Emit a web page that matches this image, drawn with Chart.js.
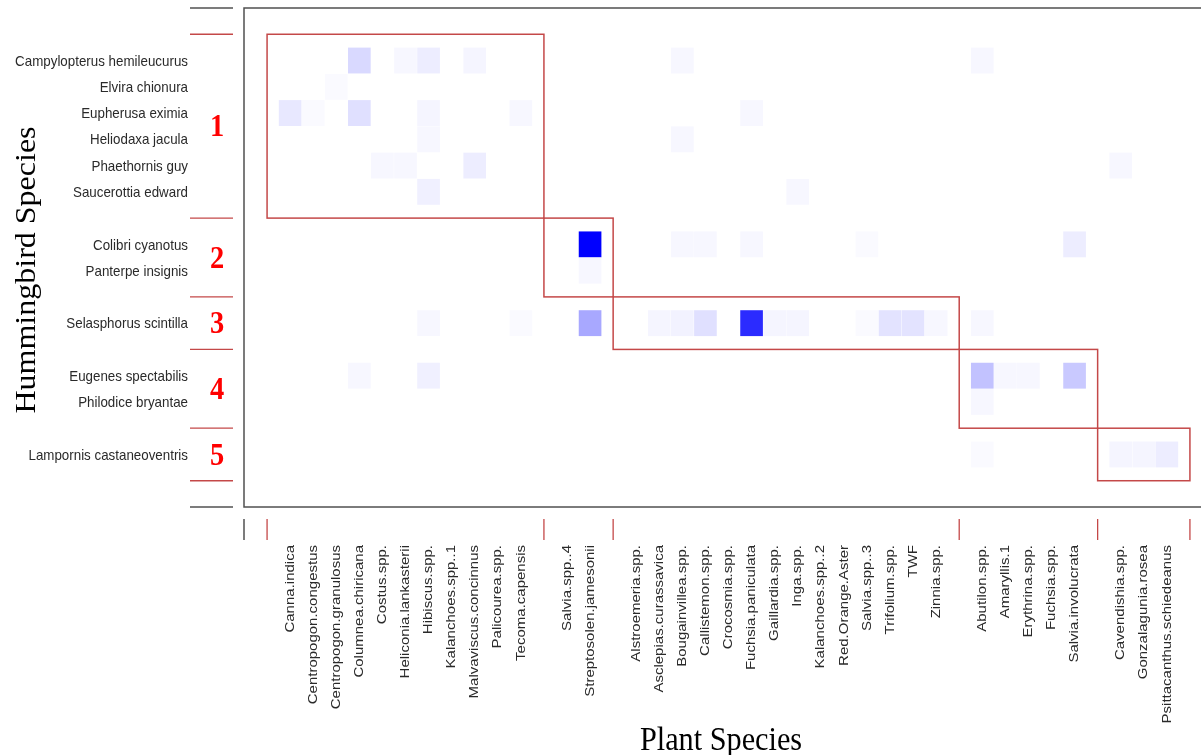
<!DOCTYPE html>
<html>
<head>
<meta charset="utf-8">
<script src="https://cdn.jsdelivr.net/npm/chart.js@4/dist/chart.umd.min.js"></script>
<style>
  html, body { margin: 0; padding: 0; background: #fff; overflow: hidden; }
  canvas { display: block; }
</style>
</head>
<body>
<canvas id="web" width="1213" height="755"></canvas>
<script>
// Hummingbird species (rows), listed module by module
const birds = [
  'Campylopterus hemileucurus', 'Elvira chionura', 'Eupherusa eximia',
  'Heliodaxa jacula', 'Phaethornis guy', 'Saucerottia edward',
  'Colibri cyanotus', 'Panterpe insignis',
  'Selasphorus scintilla',
  'Eugenes spectabilis', 'Philodice bryantae',
  'Lampornis castaneoventris'
];
const birdModules = [6, 2, 1, 2, 1];

// Plant species (columns), listed module by module
const plants = [
  'Canna.indica', 'Centropogon.congestus', 'Centropogon.granulosus', 'Columnea.chiricana',
  'Costus.spp.', 'Heliconia.lankasterii', 'Hibiscus.spp.', 'Kalanchoes.spp..1',
  'Malvaviscus.concinnus', 'Palicourea.spp.', 'Tecoma.capensis',
  'Salvia.spp..4', 'Streptosolen.jamesonii',
  'Alstroemeria.spp.', 'Asclepias.curassavica', 'Bougainvillea.spp.', 'Callistemon.spp.',
  'Crocosmia.spp.', 'Fuchsia.paniculata', 'Gaillardia.spp.', 'Inga.spp.',
  'Kalanchoes.spp..2', 'Red.Orange.Aster', 'Salvia.spp..3', 'Trifolium.spp.', 'TWF', 'Zinnia.spp.',
  'Abutilon.spp.', 'Amaryllis.1', 'Erythrina.spp.', 'Fuchsia.spp.', 'Salvia.involucrata',
  'Cavendishia.spp.', 'Gonzalagunia.rosea', 'Psittacanthus.schiedeanus'
];
const plantModules = [11, 2, 14, 5, 3];

const moduleNames = ['1', '2', '3', '4', '5'];

// Relative interaction frequency (0-100), one row per hummingbird, one column per plant
//                 |---------------- module 1 ----------------| |m2 | |------------------ module 3 ------------------| |---- m4 ----| |-m5-|
const visits = [
  /* Campylopterus */ [0,0,0,15,0,3,7,0,4,0,0,   0,0,    0,0,3,0,0,0,0,0,0,0,0,0,0,0,       3,0,0,0,0,    0,0,0],
  /* Elvira        */ [0,0,2,0,0,0,0,0,0,0,0,    0,0,    0,0,0,0,0,0,0,0,0,0,0,0,0,0,       0,0,0,0,0,    0,0,0],
  /* Eupherusa     */ [9,2,0,12,0,0,4,0,0,0,3,   0,0,    0,0,0,0,0,3,0,0,0,0,0,0,0,0,       0,0,0,0,0,    0,0,0],
  /* Heliodaxa     */ [0,0,0,0,0,0,3,0,0,0,0,    0,0,    0,0,3,0,0,0,0,0,0,0,0,0,0,0,       0,0,0,0,0,    0,0,0],
  /* Phaethornis   */ [0,0,0,0,3,3,0,0,7,0,0,    0,0,    0,0,0,0,0,0,0,0,0,0,0,0,0,0,       0,0,0,0,0,    3,0,0],
  /* Saucerottia   */ [0,0,0,0,0,0,6,0,0,0,0,    0,0,    0,0,0,0,0,0,0,3,0,0,0,0,0,0,       0,0,0,0,0,    0,0,0],
  /* Colibri       */ [0,0,0,0,0,0,0,0,0,0,0,    0,100,  0,0,3,3,0,3,0,0,0,0,2,0,0,0,       0,0,0,0,7,    0,0,0],
  /* Panterpe      */ [0,0,0,0,0,0,0,0,0,0,0,    0,3,    0,0,0,0,0,0,0,0,0,0,0,0,0,0,       0,0,0,0,0,    0,0,0],
  /* Selasphorus   */ [0,0,0,0,0,0,3,0,0,0,2,    0,34,   0,4,5,12,0,83,4,4,0,0,2,11,11,3,   3,0,0,0,0,    0,0,0],
  /* Eugenes       */ [0,0,0,3,0,0,6,0,0,0,0,    0,0,    0,0,0,0,0,0,0,0,0,0,0,0,0,0,       24,3,3,0,21,  0,0,0],
  /* Philodice     */ [0,0,0,0,0,0,0,0,0,0,0,    0,0,    0,0,0,0,0,0,0,0,0,0,0,0,0,0,       3,0,0,0,0,    0,0,0],
  /* Lampornis     */ [0,0,0,0,0,0,0,0,0,0,0,    0,0,    0,0,0,0,0,0,0,0,0,0,0,0,0,0,       2,0,0,0,0,    4,4,7]
];

// Each module is followed by one empty slot; the module borders sit on those slots.
function slotsFor(sizes) {
  const s = [];
  let pos = 1;
  sizes.forEach(n => { for (let i = 0; i < n; i++) s.push(pos++); pos++; });
  return s;
}
function boundsFor(sizes) {
  const b = [0];
  let pos = 0;
  sizes.forEach(n => { pos += n + 1; b.push(pos); });
  return b;
}
const birdSlots = slotsFor(birdModules);
const plantSlots = slotsFor(plantModules);
const birdBounds = boundsFor(birdModules);
const plantBounds = boundsFor(plantModules);

const maxVisits = Math.max(...visits.flat());

const cells = [];
visits.forEach((row, b) => row.forEach((v, p) => {
  if (v > 0) cells.push({ x: plantSlots[p], y: [birdSlots[b] - 0.48, birdSlots[b] + 0.48], v });
}));

function shade(v) {
  const k = Math.round(255 * (1 - v / maxVisits));
  return `rgb(${k},${k},255)`;
}

const MODULE_RED = 'rgb(196,72,72)';
const FRAME = '#505050';
const INK = '#2a2a2a';
const GLYPH_ASPECT = 0.89;

function txt(ctx, s, x, y, font, color, align, baseline, angle) {
  ctx.save();
  ctx.translate(x, y);
  ctx.scale(GLYPH_ASPECT, 1);
  if (angle) ctx.rotate(angle);
  ctx.font = font;
  ctx.fillStyle = color;
  ctx.textAlign = align;
  ctx.textBaseline = baseline;
  ctx.fillText(s, 0, 0);
  ctx.restore();
}

function line(ctx, x1, y1, x2, y2, color, w) {
  ctx.save();
  ctx.strokeStyle = color;
  ctx.lineWidth = w;
  ctx.beginPath();
  ctx.moveTo(x1, y1);
  ctx.lineTo(x2, y2);
  ctx.stroke();
  ctx.restore();
}

const webDecor = {
  id: 'webDecor',
  afterDraw(chart) {
    const { ctx, chartArea: a, scales: { x, y } } = chart;
    const px = v => x.getPixelForValue(v);
    const py = v => y.getPixelForValue(v);

    // module boxes along the diagonal
    ctx.save();
    ctx.strokeStyle = MODULE_RED;
    ctx.lineWidth = 1.5;
    for (let m = 0; m < moduleNames.length; m++) {
      const x0 = px(plantBounds[m]), x1 = px(plantBounds[m + 1]);
      const y0 = py(birdBounds[m]), y1 = py(birdBounds[m + 1]);
      ctx.strokeRect(x0, y0, x1 - x0, y1 - y0);
    }
    ctx.restore();

    // plot frame
    ctx.save();
    ctx.strokeStyle = FRAME;
    ctx.lineWidth = 1.5;
    ctx.strokeRect(a.left, a.top, a.right - a.left, a.bottom - a.top);
    ctx.restore();

    // left-hand ticks: plot limits in black, module borders in red
    const lx0 = a.left - 54, lx1 = a.left - 11;
    line(ctx, lx0, py(y.min), lx1, py(y.min), FRAME, 1.5);
    line(ctx, lx0, py(y.max), lx1, py(y.max), FRAME, 1.5);
    birdBounds.forEach(b => line(ctx, lx0, py(b), lx1, py(b), MODULE_RED, 1.3));

    // bottom ticks
    const by0 = a.bottom + 12, by1 = a.bottom + 33;
    line(ctx, px(x.min), by0, px(x.min), by1, FRAME, 1.5);
    line(ctx, px(x.max), by0, px(x.max), by1, FRAME, 1.5);
    plantBounds.forEach(b => line(ctx, px(b), by0, px(b), by1, MODULE_RED, 1.3));

    // species names
    const nameFont = '15px "Liberation Sans", Arial, sans-serif';
    birds.forEach((n, i) => txt(ctx, n, a.left - 56, py(birdSlots[i]) + 1, nameFont, INK, 'right', 'middle', 0));
    plants.forEach((n, i) => txt(ctx, n, px(plantSlots[i]), a.bottom + 38, nameFont, INK, 'right', 'middle', -Math.PI / 2));

    // module numbers
    let start = 0;
    birdModules.forEach((n, m) => {
      const mid = (birdSlots[start] + birdSlots[start + n - 1]) / 2;
      txt(ctx, moduleNames[m], a.left - 27, py(mid) + 2, 'bold 32px "Liberation Serif", "Times New Roman", serif', '#f00', 'center', 'middle', 0);
      start += n;
    });

    // axis titles
    txt(ctx, 'Hummingbird Species', 28, 270, '32px "Liberation Serif", "Times New Roman", serif', '#000', 'center', 'middle', -Math.PI / 2);
    txt(ctx, 'Plant Species', 721, 750, '34px "Liberation Serif", "Times New Roman", serif', '#000', 'center', 'alphabetic', 0);
  }
};

new Chart(document.getElementById('web'), {
  type: 'bar',
  data: {
    datasets: [{
      data: cells,
      backgroundColor: c => shade(c.raw ? c.raw.v : 0),
      borderWidth: 0,
      barThickness: 22
    }]
  },
  options: {
    responsive: false,
    animation: false,
    events: [],
    layout: { padding: { left: 244, top: 8, right: 0, bottom: 248 } },
    plugins: { legend: { display: false }, tooltip: { enabled: false } },
    scales: {
      x: { type: 'linear', min: -1, max: plantBounds[plantBounds.length - 1] + 1, offset: false, display: false },
      y: { type: 'linear', min: -1, max: birdBounds[birdBounds.length - 1] + 1, reverse: true, display: false }
    }
  },
  plugins: [webDecor]
});
</script>
</body>
</html>
